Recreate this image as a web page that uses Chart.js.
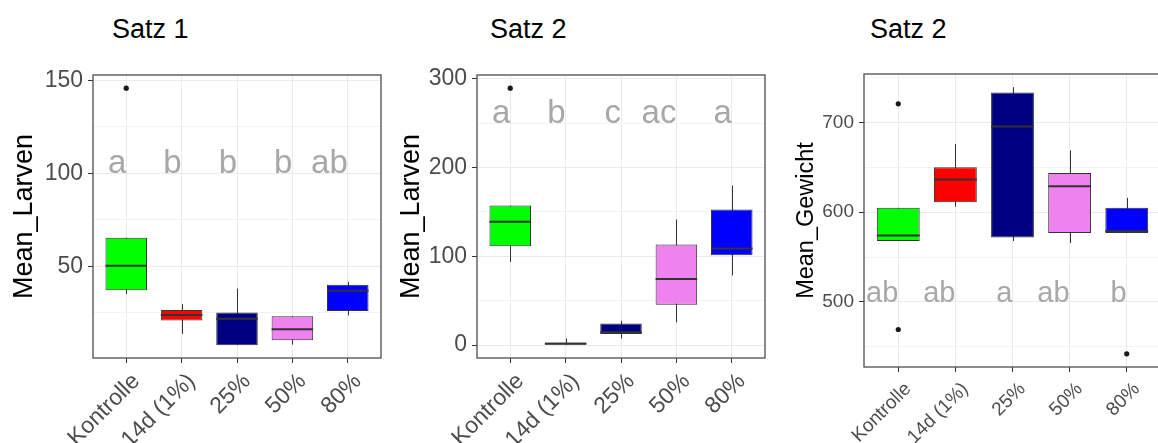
<!DOCTYPE html>
<html>
<head>
<meta charset="utf-8">
<script src="https://cdn.jsdelivr.net/npm/chart.js@4/dist/chart.umd.min.js"></script>
<style>
  html, body { margin: 0; padding: 0; background: #fff; }
  body { width: 1158px; height: 443px; overflow: hidden; position: relative; font-family: "Liberation Sans", Arial, sans-serif; }
  .panel { position: absolute; top: 0; }
  .satz { position: absolute; font-size: 27px; line-height: 27px; color: #000; white-space: nowrap; }
</style>
</head>
<body>
<div class="satz" style="left:112px; top:16px;">Satz 1</div>
<div class="satz" style="left:490px; top:16px;">Satz 2</div>
<div class="satz" style="left:870px; top:16px;">Satz 2</div>

<div class="panel" style="left:0px;"><canvas id="chart1" width="390" height="443"></canvas></div>
<div class="panel" style="left:390px;"><canvas id="chart2" width="390" height="443"></canvas></div>
<div class="panel" style="left:770px;"><canvas id="chart3" width="395" height="443"></canvas></div>

<script>
// shared categories and fills
const categories = ["Kontrolle", "14d (1%)", "25%", "50%", "80%"];
const boxColors = ["#00ff00", "#ff0000", "#000080", "#ee82ee", "#0000ff"];

// Satz 1 - Mean_Larven
const min1 = [35.1, 13.8, 7.7, 8.0, 23.7];
const q1_1 = [37.2, 21.0, 7.7, 10.4, 26.0];
const med1 = [50.4, 23.9, 21.9, 16.2, 36.9];
const q3_1 = [65.4, 26.6, 25.3, 23.2, 40.1];
const max1 = [65.4, 29.7, 38.1, 23.2, 41.7];
const out1 = [{ x: 0, y: 145.7 }];
const letters1 = ["a", "b", "b", "b", "ab"];
const letterY1 = 100;
const ticks1 = [25, 50, 75, 100, 125, 150];
const major1 = [50, 100, 150];

// Satz 2 - Mean_Larven
const min2 = [93.7, 0, 7.5, 25.6, 78.6];
const q1_2 = [111.3, 0, 12.6, 45.6, 101.1];
const med2 = [138.8, 1.5, 14.4, 74.5, 108.7];
const q3_2 = [157.2, 3, 24.4, 113.2, 152.6];
const max2 = [157.2, 7.5, 27.5, 141.4, 179.7];
const out2 = [{ x: 0, y: 289.4 }];
const letters2 = ["a", "b", "c", "ac", "a"];
const letterY2 = 250;
const ticks2 = [0, 50, 100, 150, 200, 250, 300];
const major2 = [0, 100, 200, 300];

// Satz 2 - Mean_Gewicht
const min3 = [567.8, 606, 567.8, 565.6, 576.7];
const q1_3 = [567.8, 611.1, 571.9, 576.7, 576.7];
const med3 = [574.1, 636.3, 695.6, 628.9, 578.9];
const q3_3 = [604.9, 650, 733.3, 643.8, 604.9];
const max3 = [604.9, 676, 739.3, 668.9, 616];
const out3 = [{ x: 0, y: 720.8 }, { x: 0, y: 469.3 }, { x: 4, y: 442.2 }];
const letters3 = ["ab", "ab", "a", "ab", "b"];
const letterY3 = 500;
const ticks3 = [450, 500, 550, 600, 650, 700, 750];
const major3 = [500, 600, 700];

const FONT = "'Liberation Sans', Arial, sans-serif";
const INK = "#333333";

// whiskers, medians, letters and panel border drawn through the chart scales
const boxExtras = {
  id: "boxExtras",
  beforeDatasetsDraw(chart, args, opts) {
    const { ctx } = chart;
    const xs = chart.scales.x, ys = chart.scales.y;
    ctx.save();
    ctx.strokeStyle = INK;
    ctx.lineWidth = 1;
    opts.mins.forEach((lo, i) => {
      const x = Math.round(xs.getPixelForValue(i)) + 0.5;
      ctx.beginPath();
      ctx.moveTo(x, ys.getPixelForValue(lo));
      ctx.lineTo(x, ys.getPixelForValue(opts.maxs[i]));
      ctx.stroke();
    });
    ctx.restore();
  },
  afterDatasetsDraw(chart, args, opts) {
    const { ctx, chartArea } = chart;
    const xs = chart.scales.x, ys = chart.scales.y;
    const meta = chart.getDatasetMeta(0);
    ctx.save();
    ctx.strokeStyle = INK;
    ctx.lineWidth = 2;
    opts.meds.forEach((m, i) => {
      const bar = meta.data[i];
      const y = ys.getPixelForValue(m);
      ctx.beginPath();
      ctx.moveTo(bar.x - bar.width / 2, y);
      ctx.lineTo(bar.x + bar.width / 2, y);
      ctx.stroke();
    });
    ctx.fillStyle = "#a8a8a8";
    ctx.font = opts.letterSize + "px " + FONT;
    ctx.textAlign = "right";
    ctx.textBaseline = "alphabetic";
    opts.letters.forEach((t, i) => {
      ctx.fillText(t, xs.getPixelForValue(i), ys.getPixelForValue(opts.letterY));
    });
    ctx.strokeStyle = "#4d4d4d";
    ctx.lineWidth = 1.3;
    ctx.strokeRect(chartArea.left, chartArea.top, chartArea.right - chartArea.left, chartArea.bottom - chartArea.top);
    ctx.restore();
  }
};

function makeBoxChart(id, cfg) {
  const boxes = categories.map((c, i) => ({ x: i, y: [cfg.q1[i], cfg.q3[i]] }));
  new Chart(document.getElementById(id), {
    type: "bar",
    data: {
      datasets: [
        {
          type: "bar",
          data: boxes,
          backgroundColor: boxColors,
          borderColor: INK,
          borderWidth: 1,
          borderSkipped: false,
          barPercentage: 0.75,
          categoryPercentage: 1,
          order: 1
        },
        {
          type: "scatter",
          data: cfg.outliers,
          backgroundColor: "#1a1a1a",
          borderWidth: 0,
          pointRadius: 2.6,
          order: 0
        }
      ]
    },
    options: {
      responsive: false,
      animation: false,
      events: [],
      layout: { padding: { left: 0, right: cfg.padRight, top: cfg.top, bottom: 0 } },
      plugins: {
        legend: { display: false },
        tooltip: { enabled: false },
        boxExtras: {
          mins: cfg.min, maxs: cfg.max, meds: cfg.med,
          letters: cfg.letters, letterY: cfg.letterY, letterSize: cfg.letterSize
        }
      },
      scales: {
        x: {
          type: "linear",
          offset: false,
          min: -0.6,
          max: 4.6,
          afterBuildTicks: s => { s.ticks = categories.map((c, i) => ({ value: i })); },
          afterFit: s => { s.height = 443 - cfg.bottom; },
          ticks: {
            autoSkip: false,
            minRotation: 45,
            maxRotation: 45,
            padding: cfg.xPad,
            labelOffset: 10,
            color: "#4d4d4d",
            font: { family: FONT, size: cfg.tickSize },
            callback: v => categories[v]
          },
          grid: { offset: false, color: "#ebebeb", lineWidth: 1, tickColor: INK, tickLength: 5 },
          border: { display: false }
        },
        y: {
          min: cfg.yMin,
          max: cfg.yMax,
          afterBuildTicks: s => { s.ticks = cfg.ticks.map(v => ({ value: v })); },
          afterFit: s => { s.width = cfg.left; },
          ticks: {
            padding: 5,
            color: "#4d4d4d",
            font: { family: FONT, size: cfg.tickSize },
            callback: v => (cfg.major.includes(v) ? String(v) : "")
          },
          grid: {
            color: "#ebebeb",
            lineWidth: c => (cfg.major.includes(c.tick.value) ? 1 : 0.6),
            tickColor: c => (cfg.major.includes(c.tick.value) ? INK : "rgba(0,0,0,0)"),
            tickLength: 5
          },
          border: { display: false },
          title: {
            display: true,
            text: cfg.yTitle,
            color: "#000",
            font: { family: FONT, size: cfg.titleSize },
            padding: { top: cfg.titlePad, bottom: 0 }
          }
        }
      }
    },
    plugins: [boxExtras]
  });
}

makeBoxChart("chart1", {
  min: min1, q1: q1_1, med: med1, q3: q3_1, max: max1, outliers: out1,
  letters: letters1, letterY: letterY1, ticks: ticks1, major: major1,
  yMin: 0.8, yMax: 152.8, yTitle: "Mean_Larven",
  left: 93, padRight: 9, top: 75, bottom: 358,
  tickSize: 23, titleSize: 27, letterSize: 33, titlePad: 8, xPad: 5
});
makeBoxChart("chart2", {
  min: min2, q1: q1_2, med: med2, q3: q3_2, max: max2, outliers: out2,
  letters: letters2, letterY: letterY2, ticks: ticks2, major: major2,
  yMin: -14.5, yMax: 304.2, yTitle: "Mean_Larven",
  left: 87, padRight: 15, top: 75, bottom: 358,
  tickSize: 23, titleSize: 27, letterSize: 33, titlePad: 5, xPad: 5
});
makeBoxChart("chart3", {
  min: min3, q1: q1_3, med: med3, q3: q3_3, max: max3, outliers: out3,
  letters: letters3, letterY: letterY3, ticks: ticks3, major: major3,
  yMin: 427.5, yMax: 754, yTitle: "Mean_Gewicht",
  left: 94, padRight: 2, top: 74, bottom: 367,
  tickSize: 19, titleSize: 23.5, letterSize: 29, titlePad: 22, xPad: 6
});
</script>
</body>
</html>
